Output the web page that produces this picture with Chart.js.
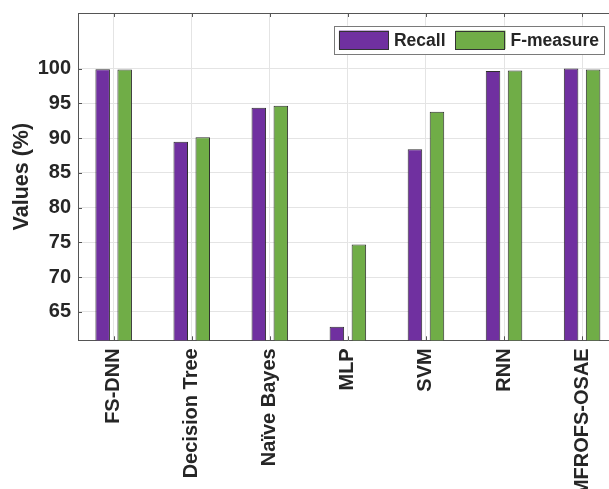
<!DOCTYPE html>
<html>
<head>
<meta charset="utf-8">
<script src="https://cdn.jsdelivr.net/npm/chart.js@4.4.1/dist/chart.umd.min.js"></script>
<style>
  html, body { margin: 0; padding: 0; overflow: hidden; background: #ffffff; }
  canvas { display: block; }
</style>
</head>
<body>
<canvas id="chart" width="625" height="489"></canvas>
<script>
// Classifier comparison: recall and F-measure per method
const categories = ['FS-DNN', 'Decision Tree', 'Naïve Bayes', 'MLP', 'SVM', 'RNN', 'MFROFS-OSAE'];
const recall = [99.9, 89.47, 94.37, 62.84, 88.4, 99.67, 100.0];
const fMeasure = [99.88, 90.12, 94.65, 74.67, 93.8, 99.72, 99.86];
const yTicks = [65, 70, 75, 80, 85, 90, 95, 100];
const seriesNames = ['Recall', 'F-measure'];
const seriesColors = ['#7030A0', '#70AD47'];
const yTitle = 'Values (%)';

const FONT = '"Liberation Sans", Arial, Helvetica, sans-serif';
const AXIS_COLOR = '#555555';
const TEXT_COLOR = '#262626';

// Categories sit at x = 1..N on a linear scale so the axis limits can be set freely
const toPoints = arr => arr.map((v, i) => ({ x: i + 1, y: v }));

// Box outline, inward tick marks and the boxed legend
const framePlugin = {
  id: 'frame',
  afterDraw(chart) {
    const { ctx, chartArea: a, scales } = chart;
    ctx.save();
    ctx.strokeStyle = AXIS_COLOR;
    ctx.lineWidth = 1;
    // top edge of the axes box
    ctx.beginPath();
    ctx.moveTo(a.left, Math.round(a.top) + 0.5);
    ctx.lineTo(a.right, Math.round(a.top) + 0.5);
    ctx.stroke();
    // inward ticks on top and bottom
    const xs = scales.x;
    ctx.beginPath();
    for (let i = 0; i < xs.ticks.length; i++) {
      const px = Math.round(xs.getPixelForTick(i)) + 0.5;
      ctx.moveTo(px, a.top);
      ctx.lineTo(px, a.top + 4);
      ctx.moveTo(px, a.bottom);
      ctx.lineTo(px, a.bottom - 4);
    }
    // inward ticks on the left
    const ys = scales.y;
    for (let i = 0; i < ys.ticks.length; i++) {
      const py = Math.round(ys.getPixelForTick(i)) + 0.5;
      ctx.moveTo(a.left, py);
      ctx.lineTo(a.left + 4, py);
    }
    ctx.stroke();

    // legend
    const ds = chart.data.datasets;
    ctx.font = '700 17.5px ' + FONT;
    const pad = 5, sw = 50, sh = 18.5, gapText = 5, gapItem = 10;
    const widths = ds.map(d => ctx.measureText(d.label).width);
    let total = pad * 2;
    widths.forEach((w, i) => { total += sw + gapText + w + (i < widths.length - 1 ? gapItem : 0); });
    const boxRight = a.right - 14;
    const boxLeft = boxRight - total;
    const boxTop = a.top + 12.7;
    const boxH = 28.3;
    ctx.fillStyle = '#ffffff';
    ctx.fillRect(boxLeft, boxTop, total, boxH);
    ctx.strokeStyle = '#7a7a7a';
    ctx.strokeRect(Math.round(boxLeft) + 0.5, Math.round(boxTop) + 0.5, Math.round(total), Math.round(boxH));
    let x = boxLeft + pad;
    const midY = boxTop + boxH / 2;
    ds.forEach((d, i) => {
      ctx.fillStyle = d.backgroundColor;
      ctx.fillRect(x, midY - sh / 2, sw, sh);
      ctx.strokeStyle = '#333333';
      ctx.strokeRect(Math.round(x) + 0.5, Math.round(midY - sh / 2) + 0.5, sw - 1, Math.round(sh) - 1);
      x += sw + gapText;
      ctx.fillStyle = TEXT_COLOR;
      ctx.textBaseline = 'middle';
      ctx.textAlign = 'left';
      ctx.fillText(d.label, x, midY + 1);
      x += widths[i] + gapItem;
    });
    ctx.restore();
  }
};

new Chart(document.getElementById('chart'), {
  type: 'bar',
  data: {
    datasets: [
      {
        label: seriesNames[0],
        data: toPoints(recall),
        backgroundColor: seriesColors[0],
        borderColor: '#2e2e2e',
        borderWidth: 1,
        borderSkipped: 'start'
      },
      {
        label: seriesNames[1],
        data: toPoints(fMeasure),
        backgroundColor: seriesColors[1],
        borderColor: '#2e2e2e',
        borderWidth: 1,
        borderSkipped: 'start'
      }
    ]
  },
  options: {
    responsive: false,
    animation: false,
    devicePixelRatio: 1,
    categoryPercentage: 0.564,
    barPercentage: 0.66,
    layout: { padding: { top: 13, right: 7, bottom: 0, left: 0 } },
    plugins: {
      legend: { display: false },
      tooltip: { enabled: false }
    },
    scales: {
      x: {
        type: 'linear',
        min: 0.543,
        max: 7.46,
        offset: false,
        afterBuildTicks: s => { s.ticks = categories.map((_, i) => ({ value: i + 1 })); },
        afterFit: s => {
          s.height = 148.7;
          s.paddingLeft = 0; s.paddingRight = 0; s.paddingTop = 0; s.paddingBottom = 0;
        },
        grid: { display: true, offset: false, color: '#e4e4e4', lineWidth: 1, drawTicks: false },
        border: { display: true, color: AXIS_COLOR, width: 1 },
        ticks: {
          autoSkip: false,
          minRotation: 90,
          maxRotation: 90,
          padding: 8,
          color: TEXT_COLOR,
          font: { family: FONT, size: 20, weight: '700' },
          callback: v => categories[Math.round(v) - 1] || ''
        }
      },
      y: {
        min: 60.9,
        max: 108,
        afterBuildTicks: s => { s.ticks = yTicks.map(v => ({ value: v })); },
        afterFit: s => {
          s.width = 78;
          s.paddingLeft = 0; s.paddingRight = 0; s.paddingTop = 0; s.paddingBottom = 0;
        },
        grid: { color: '#e4e4e4', lineWidth: 1, drawTicks: false },
        border: { display: true, color: AXIS_COLOR, width: 1 },
        ticks: {
          padding: 7,
          color: TEXT_COLOR,
          font: { family: FONT, size: 20, weight: '700' },
          callback: v => String(v)
        },
        title: {
          display: true,
          text: yTitle,
          color: TEXT_COLOR,
          font: { family: FONT, size: 21.5, weight: '700' },
          padding: { top: 9, bottom: 0 }
        }
      }
    }
  },
  plugins: [framePlugin]
});
</script>
</body>
</html>
